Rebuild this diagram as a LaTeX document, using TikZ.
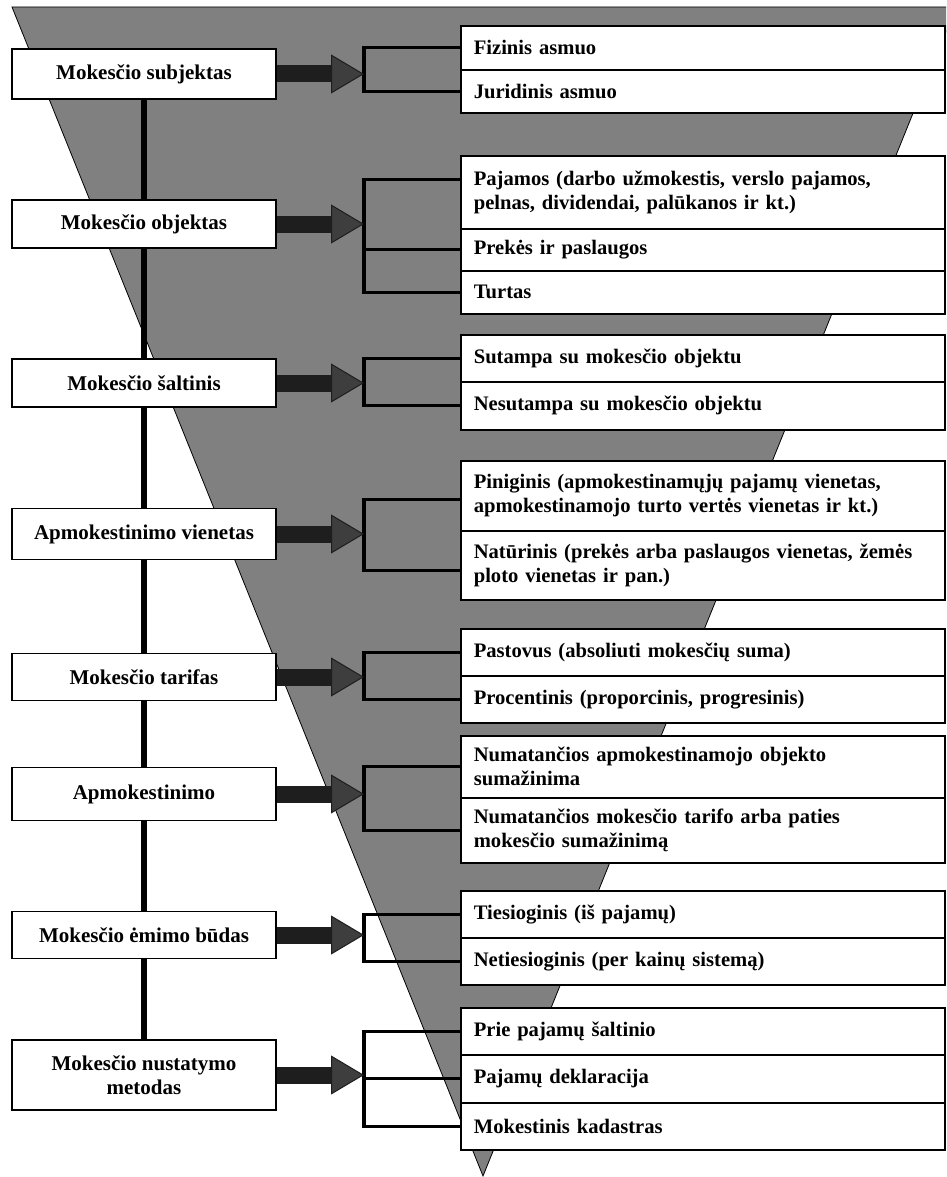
\documentclass[tikz,border=0pt]{standalone}
\usepackage{fontspec}
\setmainfont{Liberation Serif}
\definecolor{trigray}{HTML}{808080}
\definecolor{headgray}{HTML}{3E3E3E}
\definecolor{shaft}{HTML}{1E1E1E}
\usetikzlibrary{arrows.meta,positioning}

\begin{document}
\begin{tikzpicture}[x=1pt,y=-1pt,
  lb/.style={draw,line width=1.6pt,fill=white,minimum width=264pt,inner sep=2pt,align=center,
    font=\bfseries\fontsize{21}{24}\selectfont},
  rb/.style={draw,line width=1.6pt,fill=white,anchor=north west,text width=458pt,inner xsep=13pt,
    inner ysep=2pt,align=left,font=\bfseries\fontsize{20.6}{24}\selectfont},
  arr/.style={line width=17pt,draw=shaft,-{Triangle[length=33pt,width=39pt,line width=1pt,fill=headgray]}},
  brk/.style={line width=3.2pt},
  spine/.style={line width=6pt}]
  \useasboundingbox (0,0) rectangle (946,1177);
  \clip (0,0) rectangle (946,1177);
  \filldraw[fill=trigray,draw=black,line width=0.8pt] (12,7) -- (956,7) -- (483,1176) -- cycle;

  \node[lb,minimum height=50pt] (m1) at (144,74) {Mokesčio subjektas};
  \node[lb,minimum height=48pt] (m2) at (144,224) {Mokesčio objektas};
  \node[lb,minimum height=48pt] (m3) at (144,383) {Mokesčio šaltinis};
  \node[lb,minimum height=51pt] (m4) at (144,534) {Apmokestinimo vienetas};
  \node[lb,minimum height=47pt] (m5) at (144,677) {Mokesčio tarifas};
  \node[lb,minimum height=53pt] (m6) at (144,794) {Apmokestinimo};
  \node[lb,minimum height=47pt] (m7) at (144,935) {Mokesčio ėmimo būdas};
  \node[lb,minimum height=70pt] (m8) at (144,1075) {Mokesčio nustatymo\\metodas};
  \draw[spine] (m1) -- (m2) (m2) -- (m3) (m3) -- (m4) (m4) -- (m5)
    (m5) -- (m6) (m6) -- (m7) (m7) -- (m8);

  \node[rb,minimum height=44pt] (r1a) at (460,25) {Fizinis asmuo};
  \node[rb,minimum height=43pt] (r1b) at (460,69) {Juridinis asmuo};
  \node[rb,minimum height=73pt] (r2a) at (460,155) {Pajamos (darbo užmokestis, verslo pajamos,\\pelnas, dividendai, palūkanos ir kt.)};
  \node[rb,minimum height=42pt] (r2b) at (460,228) {Prekės ir paslaugos};
  \node[rb,minimum height=43pt] (r2c) at (460,270) {Turtas};
  \node[rb,minimum height=47pt] (r3a) at (460,334) {Sutampa su mokesčio objektu};
  \node[rb,minimum height=48pt] (r3b) at (460,381) {Nesutampa su mokesčio objektu};
  \node[rb,minimum height=70pt] (r4a) at (460,460) {Piniginis (apmokestinamųjų pajamų vienetas,\\apmokestinamojo turto vertės vienetas ir kt.)};
  \node[rb,minimum height=69pt] (r4b) at (460,530) {Natūrinis (prekės arba paslaugos vienetas, žemės\\ploto vienetas ir pan.)};
  \node[rb,minimum height=47pt] (r5a) at (460,628) {Pastovus (absoliuti mokesčių suma)};
  \node[rb,minimum height=47pt] (r5b) at (460,675) {Procentinis (proporcinis, progresinis)};
  \node[rb,minimum height=62pt] (r6a) at (460,735) {Numatančios apmokestinamojo objekto\\sumažinima};
  \node[rb,minimum height=65pt] (r6b) at (460,797) {Numatančios mokesčio tarifo arba paties\\mokesčio sumažinimą};
  \node[rb,minimum height=47pt] (r7a) at (460,890) {Tiesioginis (iš pajamų)};
  \node[rb,minimum height=47pt] (r7b) at (460,937) {Netiesioginis (per kainų sistemą)};
  \node[rb,minimum height=47pt] (r8a) at (460,1007) {Prie pajamų šaltinio};
  \node[rb,minimum height=48pt] (r8b) at (460,1054) {Pajamų deklaracija};
  \node[rb,minimum height=47pt] (r8c) at (460,1102) {Mokestinis kadastras};

  \coordinate (b1) at (364,0 |- m1);
  \coordinate (b2) at (364,0 |- m2);
  \coordinate (b3) at (364,0 |- m3);
  \coordinate (b4) at (364,0 |- m4);
  \coordinate (b5) at (364,0 |- m5);
  \coordinate (b6) at (364,0 |- m6);
  \coordinate (b7) at (364,0 |- m7);
  \coordinate (b8) at (364,0 |- m8);

  \draw[brk] (r1a.west) -| (b1) |- (r1b.west);
  \draw[brk] ([yshift=13pt]r2a.west) -| (b2) |- (r2c.west);
  \draw[brk] (b2 |- r2b.west) -- (r2b.west);
  \draw[brk] (r3a.west) -| (b3) |- (r3b.west);
  \draw[brk] ([yshift=-4pt]r4a.west) -| (b4) |- ([yshift=-5pt]r4b.west);
  \draw[brk] (r5a.west) -| (b5) |- (r5b.west);
  \draw[brk] (r6a.west) -| (b6) |- (r6b.west);
  \draw[brk] (r7a.west) -| (b7) |- (r7b.west);
  \draw[brk] (r8a.west) -| (b8) |- (r8c.west);
  \draw[brk] (b8 |- r8b.west) -- (r8b.west);

  \draw[arr] (m1) -- (b1);
  \draw[arr] (m2) -- (b2);
  \draw[arr] (m3) -- (b3);
  \draw[arr] (m4) -- (b4);
  \draw[arr] (m5) -- (b5);
  \draw[arr] (m6) -- (b6);
  \draw[arr] (m7) -- (b7);
  \draw[arr] (m8) -- (b8);
\end{tikzpicture}
\end{document}
